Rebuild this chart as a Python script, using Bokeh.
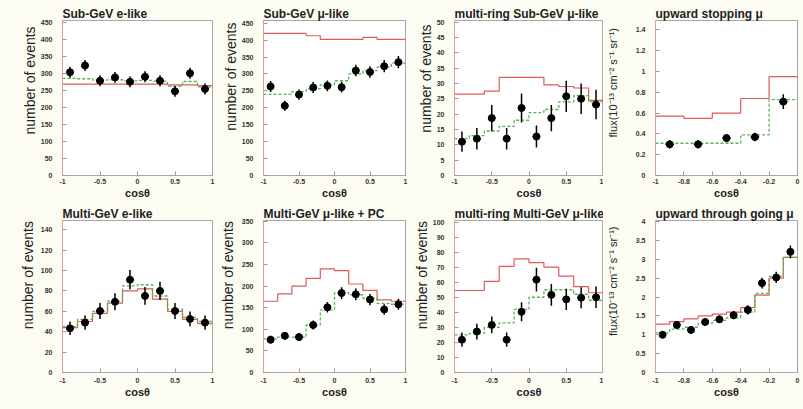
import numpy as np
from bokeh.plotting import figure
from bokeh.layouts import gridplot
from bokeh.models import Range1d, FixedTicker
from bokeh.embed import file_html
from bokeh.resources import INLINE

# ---------------- data ----------------
cos_full = [-0.9, -0.7, -0.5, -0.3, -0.1, 0.1, 0.3, 0.5, 0.7, 0.9]
edges_full = [-1.0, -0.8, -0.6, -0.4, -0.2, 0.0, 0.2, 0.4, 0.6, 0.8, 1.0]
cos_stop = [-0.9, -0.7, -0.5, -0.3, -0.1]
edges_stop = [-1.0, -0.8, -0.6, -0.4, -0.2, 0.0]
cos_thru = [-0.95, -0.85, -0.75, -0.65, -0.55, -0.45, -0.35, -0.25, -0.15, -0.05]
edges_thru = [-1.0, -0.9, -0.8, -0.7, -0.6, -0.5, -0.4, -0.3, -0.2, -0.1, 0.0]

# Sub-GeV e-like
sge_data = [303, 323, 278, 288, 275, 290, 278, 247, 300, 254]
sge_err = [16, 16, 16, 16, 16, 16, 16, 16, 16, 16]
sge_null = [268, 268, 268, 268, 268, 268, 268, 266, 266, 264]
sge_osc = [285, 284, 280, 281, 278, 279, 277, 262, 276, 260]

# Sub-GeV mu-like
sgm_data = [263, 206, 239, 260, 265, 261, 310, 306, 323, 335]
sgm_err = [16, 15, 15, 16, 16, 16, 17, 17, 18, 18]
sgm_null = [420, 420, 420, 413, 402, 402, 402, 408, 402, 402]
sgm_osc = [240, 240, 248, 256, 268, 280, 300, 310, 320, 332]

# multi-ring Sub-GeV mu-like
mrs_data = [11, 12, 18.7, 12, 22, 12.7, 18.7, 25.8, 25, 23.1]
mrs_err = [3.3, 3.5, 4.3, 3.5, 4.7, 3.6, 4.3, 5.1, 5.0, 4.8]
mrs_null = [26.5, 26.5, 27.5, 32, 32, 32, 29.5, 29, 28.5, 24.5]
mrs_osc = [12, 13, 14.5, 16, 18, 20.5, 21.5, 24, 26, 24]

# upward stopping mu
ups_data = [0.30, 0.30, 0.36, 0.37, 0.71]
ups_err = [0.04, 0.04, 0.04, 0.04, 0.07]
ups_null = [0.57, 0.55, 0.60, 0.74, 0.95]
ups_osc = [0.31, 0.31, 0.31, 0.39, 0.73]

# Multi-GeV e-like
mge_data = [43.3, 48.9, 60.3, 69.3, 91, 75.1, 80, 60.3, 52.5, 48.9]
mge_err = [6.6, 7.0, 7.8, 8.3, 9.5, 8.7, 8.9, 7.8, 7.2, 7.0]
mge_null = [44, 50, 58, 68, 80, 82, 72, 60, 52, 48]
mge_osc = [45, 52, 60, 70, 85, 86, 75, 62, 54, 50]

# Multi-GeV mu-like + PC
mgm_data = [76, 85, 82, 110, 151, 184, 181, 169, 146, 158]
mgm_err = [9, 9, 9, 10.5, 12.3, 13.6, 13.5, 13, 12.1, 12.6]
mgm_null = [165, 182, 200, 218, 240, 236, 205, 190, 168, 165]
mgm_osc = [78, 82, 82, 110, 145, 185, 180, 172, 160, 158]

# multi-ring Multi-GeV mu-like
mrm_data = [21.8, 27.2, 31.6, 21.8, 40.3, 61.7, 51.6, 48.6, 49.7, 50]
mrm_err = [4.7, 5.2, 5.6, 4.7, 6.3, 7.9, 7.2, 7.0, 7.0, 7.1]
mrm_null = [54.5, 54.5, 60.5, 70.5, 75.5, 73, 70, 64, 57, 53]
mrm_osc = [25, 26, 30, 33, 42, 50, 55, 55, 52, 48]

# upward through going mu
upt_data = [1.0, 1.26, 1.13, 1.34, 1.41, 1.52, 1.66, 2.37, 2.52, 3.2]
upt_err = [0.09, 0.1, 0.1, 0.1, 0.1, 0.11, 0.12, 0.14, 0.15, 0.17]
upt_null = [1.28, 1.35, 1.42, 1.5, 1.55, 1.6, 1.72, 2.05, 2.5, 3.05]
upt_osc = [1.05, 1.15, 1.2, 1.3, 1.38, 1.45, 1.6, 2.1, 2.55, 3.05]

# ticks
xt_full = [-1, -0.5, 0, 0.5, 1]
xl_full = ["-1", "-0.5", "0", "0.5", "1"]
xt_up = [-1, -0.8, -0.6, -0.4, -0.2, 0]
xl_up = ["-1", "-0.8", "-0.6", "-0.4", "-0.2", "0"]
yt_450 = [0, 50, 100, 150, 200, 250, 300, 350, 400, 450]
yt_50 = [0, 5, 10, 15, 20, 25, 30, 35, 40, 45, 50]
yt_14 = [0, 0.2, 0.4, 0.6, 0.8, 1.0, 1.2, 1.4]
yl_14 = ["0", "0.2", "0.4", "0.6", "0.8", "1", "1.2", "1.4"]
yt_140 = [0, 20, 40, 60, 80, 100, 120, 140]
yt_350 = [0, 50, 100, 150, 200, 250, 300, 350]
yt_100 = [0, 10, 20, 30, 40, 50, 60, 70, 80, 90, 100]
yt_4 = [0, 0.5, 1.0, 1.5, 2.0, 2.5, 3.0, 3.5, 4.0]
yl_4 = ["0", "0.5", "1", "1.5", "2", "2.5", "3", "3.5", "4"]

titles = ["Sub-GeV e-like", "Sub-GeV \u03bc-like", "multi-ring Sub-GeV \u03bc-like", "upward stopping \u03bc",
          "Multi-GeV e-like", "Multi-GeV \u03bc-like + PC", "multi-ring Multi-GeV \u03bc-like", "upward through going \u03bc"]
ylab_ev = "number of events"
ylab_flux = "flux(10\u207b\u00b9\u00b3 cm\u207b\u00b2 s\u207b\u00b9 sr\u207b\u00b9)"

# ---------------- style / layout ----------------
FONT = "Liberation Sans"
RED = "#e25b5b"
GREEN = "#55b552"
BG = "#fdfcf3"
NB = "\u00a0"

col_w = [216, 194, 193, 200]
col_bl = [62, 40, 44, 44]
col_br = [4, 5, 0, 6]
row_h = [204, 205]
row_bt = [20, 16]
row_bb = [29, 37]
row_xstand = [3, 5]


def panel(c, r, title, ylabel, ylab_standoff, ypad, xr, yr, xt, xl, yt, yl,
          xs, edges, data, err, null, osc, hx):
    p = figure(width=col_w[c], height=row_h[r], x_range=Range1d(*xr), y_range=Range1d(*yr),
               output_backend="svg", toolbar_location=None, title=title,
               min_border_left=col_bl[c], min_border_right=col_br[c],
               min_border_top=row_bt[r], min_border_bottom=row_bb[r])
    p.background_fill_color = "white"
    p.border_fill_color = BG
    p.outline_line_color = "#a8a8a8"
    p.outline_line_width = 1
    p.grid.visible = False

    p.title.text_font = FONT
    p.title.text_font_size = "12px"
    p.title.text_font_style = "bold"
    p.title.align = "left"
    p.title.standoff = 0
    p.title.offset = 0
    p.title.text_color = "#222222"

    for ax in (p.xaxis[0], p.yaxis[0]):
        ax.major_label_text_font = FONT
        ax.major_label_text_font_size = "7px"
        ax.major_label_text_font_style = "bold"
        ax.major_label_text_color = "#333333"
        ax.major_tick_in = 4
        ax.major_tick_out = 0
        ax.minor_tick_in = 0
        ax.minor_tick_out = 0
        ax.major_tick_line_color = "#999999"
        ax.axis_line_color = "#a8a8a8"
        ax.axis_label_text_font = FONT
        ax.axis_label_text_color = "#222222"

    p.xaxis.ticker = FixedTicker(ticks=xt)
    p.xaxis.major_label_overrides = dict(zip(xt, xl))
    p.xaxis.major_label_standoff = row_xstand[r]
    p.xaxis.axis_label = "cos\u03b8"
    p.xaxis.axis_label_text_font_size = "11px"
    p.xaxis.axis_label_text_font_style = "bold"
    p.xaxis.axis_label_standoff = 0

    p.yaxis.ticker = FixedTicker(ticks=yt)
    p.yaxis.major_label_overrides = dict(zip(yt, yl))
    p.yaxis.major_label_standoff = 10
    # leading no-break spaces push the (centred) label toward the top, as in the original
    p.yaxis.axis_label = NB * ypad + ylabel
    p.yaxis.axis_label_text_font_size = "14px" if ylabel == ylab_ev else "11px"
    p.yaxis.axis_label_text_font_style = "normal"
    p.yaxis.axis_label_standoff = ylab_standoff
    p.yaxis.axis_line_color = "#d8a0a0"

    # histograms (no oscillation: red, with oscillation: green)
    p.step(edges, list(null) + [null[-1]], mode="after", line_color=RED, line_width=1.2)
    p.step(edges, list(osc) + [osc[-1]], mode="after", line_color=GREEN, line_width=1.3,
           line_dash="3 2")

    # data points
    xs_a = np.array(xs, dtype=float)
    d = np.array(data, dtype=float)
    e = np.array(err, dtype=float)
    p.segment(xs_a, d - e, xs_a, d + e, line_color="black", line_width=1.5)
    p.segment(xs_a - hx, d, xs_a + hx, d, line_color="black", line_width=1.5)
    p.scatter(xs_a, d, size=7, color="black")
    return p


def s(v):
    return [str(t) for t in v]


p1 = panel(0, 0, titles[0], ylab_ev, 0, 9, (-1, 1), (0, 455), xt_full, xl_full, yt_450, s(yt_450),
           cos_full, edges_full, sge_data, sge_err, sge_null, sge_osc, 0.05)
p2 = panel(1, 0, titles[1], ylab_ev, 0, 11, (-1, 1), (0, 458), xt_full, xl_full, yt_450, s(yt_450),
           cos_full, edges_full, sgm_data, sgm_err, sgm_null, sgm_osc, 0.05)
p3 = panel(2, 0, titles[2], ylab_ev, 0, 10, (-1, 1), (0, 50.5), xt_full, xl_full, yt_50, s(yt_50),
           cos_full, edges_full, mrs_data, mrs_err, mrs_null, mrs_osc, 0.05)
p4 = panel(3, 0, titles[3], ylab_flux, 14, 10, (-1, 0), (0, 1.49), xt_up, xl_up, yt_14, yl_14,
           cos_stop, edges_stop, ups_data, ups_err, ups_null, ups_osc, 0.03)
p5 = panel(0, 1, titles[4], ylab_ev, 2, 11, (-1, 1), (0, 149), xt_full, xl_full, yt_140, s(yt_140),
           cos_full, edges_full, mge_data, mge_err, mge_null, mge_osc, 0.05)
p6 = panel(1, 1, titles[5], ylab_ev, 3, 11, (-1, 1), (0, 352), xt_full, xl_full, yt_350, s(yt_350),
           cos_full, edges_full, mgm_data, mgm_err, mgm_null, mgm_osc, 0.05)
p7 = panel(2, 1, titles[6], ylab_ev, 0, 11, (-1, 1), (0, 101), xt_full, xl_full, yt_100, s(yt_100),
           cos_full, edges_full, mrm_data, mrm_err, mrm_null, mrm_osc, 0.05)
p8 = panel(3, 1, titles[7], ylab_flux, 14, 10, (-1, 0), (0, 4.03), xt_up, xl_up, yt_4, yl_4,
           cos_thru, edges_thru, upt_data, upt_err, upt_null, upt_osc, 0.025)

grid = gridplot([[p1, p2, p3, p4], [p5, p6, p7, p8]], toolbar_location=None)

open("out.html", "w").write(file_html(grid, INLINE))
